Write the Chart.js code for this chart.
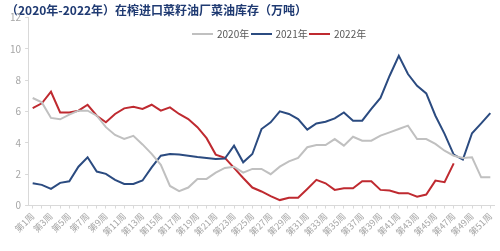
<!DOCTYPE html>
<html>
<head>
<meta charset="utf-8">
<script src="https://cdn.jsdelivr.net/npm/chart.js@4.4.1/dist/chart.umd.min.js"></script>
<style>
  body { margin: 0; background: #fff; }
  #wrap { position: relative; width: 500px; height: 251px; }
  #legend {
    position: absolute; top: 27px; left: 192px; display: flex;
    font: 10px "Noto Sans CJK SC", sans-serif; color: #595959; line-height: 14px;
  }
  .item { display: flex; align-items: center; width: 58.5px; }
  .swatch { width: 21px; height: 2px; margin-right: 4px; }
</style>
</head>
<body>
<div id="wrap">
  <canvas id="stock"></canvas>
  <div id="legend"></div>
</div>
<script>
"use strict";

// week labels 第1周 .. 第51周
const weeks = [];
for (let i = 1; i <= 51; i++) weeks.push('第' + i + '周');

const yTicks = [0, 2, 4, 6, 8, 10, 12];

// inventory, 万吨
const stock2020 = [6.86, 6.58, 5.59, 5.50, 5.80, 6.05, 6.05, 5.73, 5.00, 4.50,
                   4.25, 4.45, 3.90, 3.30, 2.60, 1.25, 0.92, 1.15, 1.70, 1.70,
                   2.10, 2.40, 2.48, 2.10, 2.34, 2.34, 2.00, 2.48, 2.82, 3.04,
                   3.72, 3.86, 3.86, 4.24, 3.82, 4.39, 4.14, 4.14, 4.46, 4.67,
                   4.88, 5.10, 4.24, 4.24, 3.93, 3.50, 3.18, 3.04, 3.08, 1.80, 1.80];
const stock2021 = [1.42, 1.32, 1.06, 1.45, 1.55, 2.48, 3.08, 2.17, 2.02, 1.64,
                   1.38, 1.38, 1.60, 2.44, 3.18, 3.29, 3.25, 3.18, 3.10, 3.04,
                   2.97, 3.00, 3.82, 2.76, 3.29, 4.88, 5.31, 6.01, 5.84, 5.52,
                   4.84, 5.24, 5.35, 5.56, 5.94, 5.41, 5.41, 6.16, 6.86, 8.28,
                   9.55, 8.39, 7.64, 7.15, 5.73, 4.57, 3.25, 2.93, 4.61, 5.24, 5.90];
const stock2022 = [6.22, 6.52, 7.26, 5.94, 5.94, 6.05, 6.43, 5.73, 5.31, 5.84,
                   6.20, 6.30, 6.16, 6.43, 6.05, 6.26, 5.84, 5.52, 5.00, 4.30,
                   3.25, 3.04, 2.40, 1.76, 1.15, 0.90, 0.60, 0.35, 0.50, 0.50,
                   1.06, 1.64, 1.42, 1.00, 1.10, 1.10, 1.55, 1.55, 1.00, 0.96,
                   0.79, 0.79, 0.57, 0.70, 1.59, 1.49, 2.69];

const cjk = '"Noto Sans CJK SC", "Noto Sans", sans-serif';
const axisGray = '#d9d9d9';
const tickGray = '#a6a6a6';

function lineSet(label, data, color) {
  return {
    label: label,
    data: data,
    borderColor: color,
    backgroundColor: color,
    borderWidth: 2,
    pointRadius: 0,
    tension: 0,
    fill: false
  };
}

const chart = new Chart(document.getElementById('stock'), {
  type: 'line',
  data: {
    labels: weeks,
    datasets: [
      lineSet('2020年', stock2020, '#c0c0c0'),
      lineSet('2021年', stock2021, '#2b4b80'),
      lineSet('2022年', stock2022, '#bf2a30')
    ]
  },
  options: {
    responsive: true,
    maintainAspectRatio: false,
    animation: false,
    layout: { padding: { left: 6, right: 4, top: 0, bottom: 11 } },
    plugins: {
      legend: { display: false },
      tooltip: { enabled: false },
      title: {
        display: true,
        text: '（2020年-2022年）在榨进口菜籽油厂菜油库存（万吨）',
        align: 'start',
        color: '#1f3a72',
        font: { family: cjk, size: 12, weight: 'bold' },
        padding: { top: 3, bottom: 0 }
      }
    },
    scales: {
      x: {
        offset: true,
        grid: { display: true, drawOnChartArea: false, color: axisGray, tickLength: 3 },
        border: { color: axisGray },
        ticks: {
          autoSkip: false,
          maxRotation: 45,
          minRotation: 45,
          padding: 2,
          color: tickGray,
          font: { family: cjk, size: 9 },
          callback: function (value, index) {
            return index % 2 === 0 ? weeks[index] : '';
          }
        }
      },
      y: {
        min: 0,
        max: 12,
        afterBuildTicks: function (axis) {
          axis.ticks = yTicks.map(v => ({ value: v }));
        },
        grid: { display: true, drawOnChartArea: false, color: axisGray, tickLength: 3 },
        border: { color: axisGray },
        ticks: {
          padding: 4,
          color: tickGray,
          font: { family: cjk, size: 10 }
        }
      }
    }
  }
});

// legend drawn as html from the datasets
const legendBox = document.getElementById('legend');
chart.data.datasets.forEach(ds => {
  const item = document.createElement('div');
  item.className = 'item';
  item.innerHTML = `<span class="swatch" style="background:${ds.borderColor}"></span>${ds.label}`;
  legendBox.appendChild(item);
});
</script>
</body>
</html>
